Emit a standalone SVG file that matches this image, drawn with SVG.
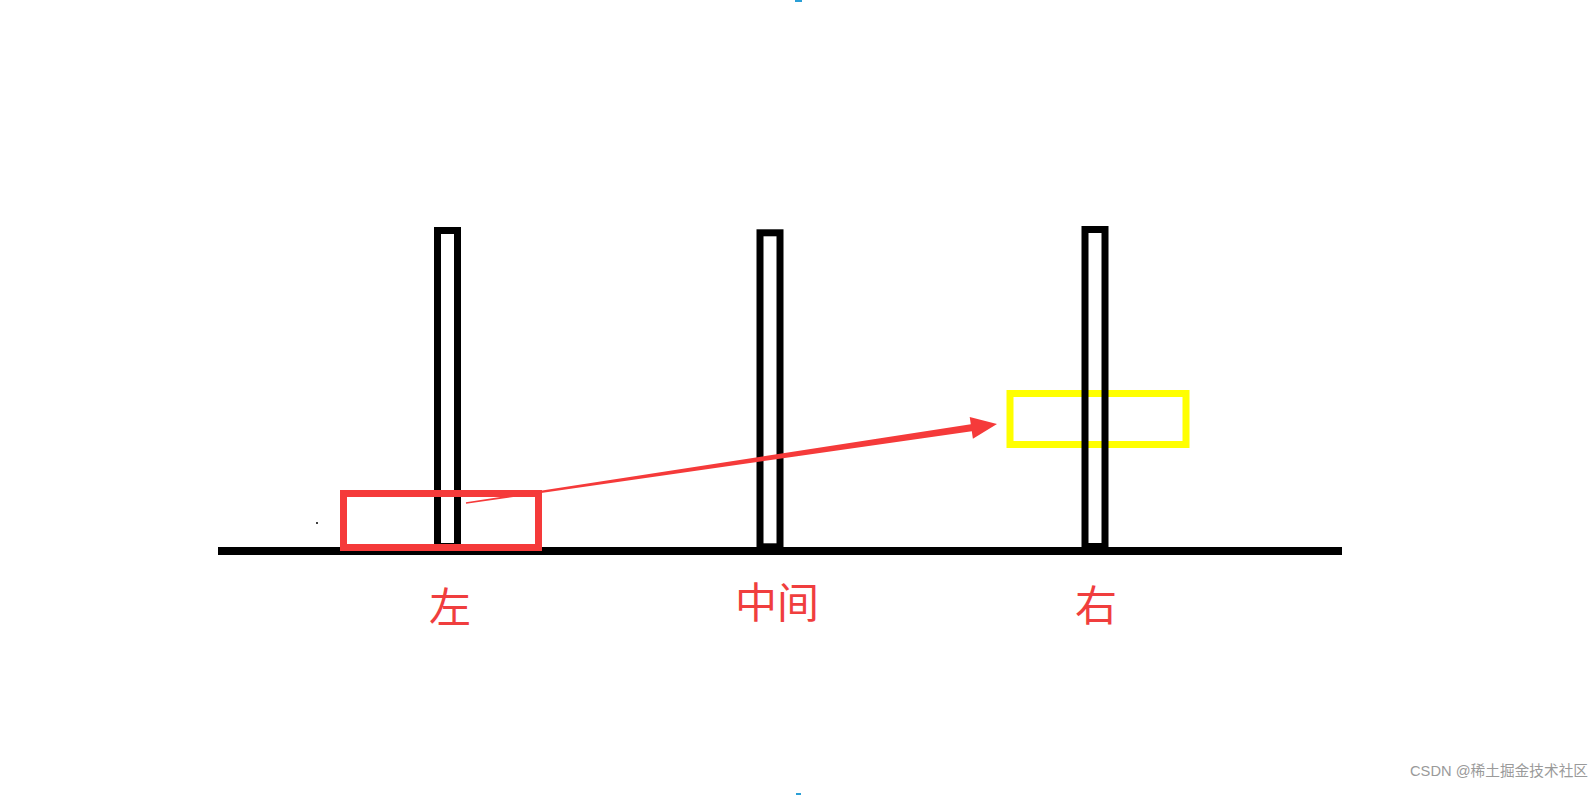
<svg xmlns="http://www.w3.org/2000/svg" width="1596" height="795" viewBox="0 0 1596 795">
<style>
.peg{fill:none;stroke:#000;stroke-width:7}
.lbl{font-family:"Noto Sans CJK SC","Noto Sans",sans-serif;font-size:42px;fill:#f03e3e;text-anchor:middle}
.wm{font-family:"Liberation Sans","Noto Sans CJK SC",sans-serif;font-size:15px;fill:#9a9a9a}
</style>
<rect width="1596" height="795" fill="#fff"/>
<rect x="795" y="0" width="7" height="2" fill="#2a9fd6"/>
<rect x="796" y="793" width="5" height="2" fill="#2a9fd6"/>
<circle cx="317" cy="523" r="1" fill="#000"/>
<g id="target">
<rect x="1010" y="393.5" width="176" height="51" fill="none" stroke="#ffff00" stroke-width="7"/>
</g>
<g id="base">
<line x1="218" y1="551" x2="1342" y2="551" stroke="#000" stroke-width="8"/>
</g>
<g id="peg-left"><rect class="peg" x="437.5" y="230.5" width="20" height="316"/></g>
<g id="peg-middle"><rect class="peg" x="760" y="232.8" width="20" height="314"/></g>
<g id="peg-right"><rect class="peg" x="1085" y="229.5" width="20" height="317"/></g>
<g id="source">
<rect x="343.5" y="493.5" width="195" height="54" fill="none" stroke="#f53a3a" stroke-width="7"/>
</g>
<g id="connectors">
<polygon fill="#f53a3a" points="465.9,502.3 970.8,424.3 969.7,416.9 997,424 972.9,438.7 971.8,431.3 466.1,503.7"/>
</g>
<g id="labels">
<text class="lbl" x="450" y="623">左</text>
<text class="lbl" x="777" y="618">中间</text>
<text class="lbl" x="1096" y="621">右</text>
</g>
<text class="wm" x="1410" y="776" textLength="178" lengthAdjust="spacingAndGlyphs">CSDN @稀土掘金技术社区</text>
</svg>
